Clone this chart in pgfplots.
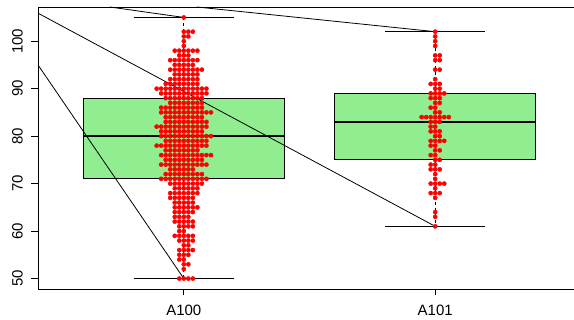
\documentclass[border=0pt]{standalone}
\usepackage{pgfplots}
\pgfplotsset{compat=1.18}
\usepackage{fontspec}
\setmainfont{Liberation Sans}
\definecolor{lightgreen}{RGB}{144,238,144}

\begin{document}
\begin{tikzpicture}
\begin{axis}[
  name=ax,
  scale only axis, width=543pt, height=282pt,
  xmin=0.42, xmax=2.58, ymin=47.8, ymax=107.2,
  axis line style={black, line width=0.8pt},
  tick pos=left, tick align=outside, major tick length=6.5pt,
  tick style={black, line width=0.8pt},
  xtick={1,2}, xticklabels={A100,A101},
  ytick={50,60,...,100},
  ticklabel style={font=\fontsize{15}{15}\selectfont, inner sep=0pt},
  /pgf/number format/assume math mode=true,
  xticklabel shift=9.5pt,
  yticklabel style={rotate=90, anchor=south},
  yticklabel shift=8.5pt,
]
% boxes
\addplot[fill=lightgreen, draw=black, line width=0.8pt] coordinates {(0.6,71) (1.4,71) (1.4,88) (0.6,88)} -- cycle;
\addplot[fill=lightgreen, draw=black, line width=0.8pt] coordinates {(1.6,75) (2.4,75) (2.4,89) (1.6,89)} -- cycle;
% whiskers
\addplot[black, line width=0.8pt, dash pattern=on 3pt off 3pt] coordinates {(1,88) (1,105)};
\addplot[black, line width=0.8pt, dash pattern=on 3pt off 3pt] coordinates {(1,71) (1,50)};
\addplot[black, line width=0.8pt, dash pattern=on 3pt off 3pt] coordinates {(2,89) (2,102)};
\addplot[black, line width=0.8pt, dash pattern=on 3pt off 3pt] coordinates {(2,75) (2,61)};
% staples
\addplot[black, line width=0.8pt] coordinates {(0.8,105) (1.2,105)};
\addplot[black, line width=0.8pt] coordinates {(0.8,50) (1.2,50)};
\addplot[black, line width=0.8pt] coordinates {(1.8,102) (2.2,102)};
\addplot[black, line width=0.8pt] coordinates {(1.8,61) (2.2,61)};
% medians
\addplot[black, line width=2.6pt] coordinates {(0.6,80) (1.4,80)};
\addplot[black, line width=2.6pt] coordinates {(1.6,83) (2.4,83)};
% connecting segments
\addplot[black, line width=0.8pt] coordinates {(0.42,105.9) (2,61)};
\addplot[black, line width=0.8pt] coordinates {(0.42,95.0) (1,50)};
\addplot[black, line width=0.8pt] coordinates {(0.706,107.2) (1,105)};
\addplot[black, line width=0.8pt] coordinates {(1.052,107.2) (2,102)};
% swarm A100 (x = slot index)
\addplot[only marks, mark=*, mark size=2.1pt, color=red, x filter/.expression={1+0.018*x}] coordinates {
(-1,50)(0,50)(1,50)(2,50)
(0,52)
(0,53)(1,53)
(-1,54)(0,54)
(-1,55)(0,55)(1,55)
(-1,56)(0,56)(1,56)(2,56)
(0,57)(1,57)
(-1,58)(0,58)(1,58)(2,58)
(-2,59)(-1,59)(0,59)(1,59)(2,59)
(-1,60)(0,60)
(-1,61)(0,61)(1,61)(2,61)
(-2,62)(-1,62)(0,62)(1,62)(2,62)
(-2,63)(-1,63)(0,63)(1,63)
(-2,64)(-1,64)(0,64)(1,64)(2,64)
(-2,65)(-1,65)(0,65)(1,65)(2,65)(3,65)
(-2,66)(-1,66)(0,66)(1,66)(2,66)
(-3,67)(-2,67)(-1,67)(0,67)(1,67)(2,67)
(-3,68)(-2,68)(-1,68)(0,68)(1,68)(2,68)(3,68)
(-2,69)(-1,69)(0,69)(1,69)(2,69)(3,69)
(-3,70)(-2,70)(-1,70)(0,70)(1,70)(2,70)(3,70)(4,70)
(-5,71)(-4,71)(-3,71)(-2,71)(-1,71)(0,71)(1,71)(2,71)(3,71)(4,71)(5,71)
(-4,72)(-3,72)(-2,72)(-1,72)(0,72)(1,72)(2,72)(3,72)(4,72)
(-3,73)(-2,73)(-1,73)(0,73)(1,73)(2,73)
(-5,74)(-4,74)(-3,74)(-2,74)(-1,74)(0,74)(1,74)(2,74)(3,74)(4,74)(5,74)
(-4,75)(-3,75)(-2,75)(-1,75)(0,75)(1,75)(2,75)(3,75)(4,75)
(-5,76)(-4,76)(-3,76)(-2,76)(-1,76)(0,76)(1,76)(2,76)(3,76)(4,76)(5,76)(6,76)
(-4,77)(-3,77)(-2,77)(-1,77)(0,77)(1,77)(2,77)(3,77)
(-6,78)(-5,78)(-4,78)(-3,78)(-2,78)(-1,78)(0,78)(1,78)(2,78)(3,78)(4,78)(5,78)
(-4,79)(-3,79)(-2,79)(-1,79)(0,79)(1,79)(2,79)(3,79)(4,79)(5,79)
(-5,80)(-4,80)(-3,80)(-2,80)(-1,80)(0,80)(1,80)(2,80)(3,80)(4,80)(5,80)(6,80)
(-5,81)(-4,81)(-3,81)(-2,81)(-1,81)(0,81)(1,81)(2,81)(3,81)(4,81)
(-6,82)(-5,82)(-4,82)(-3,82)(-2,82)(-1,82)(0,82)(1,82)(2,82)(3,82)(4,82)(5,82)
(-4,83)(-3,83)(-2,83)(-1,83)(0,83)(1,83)(2,83)(3,83)(4,83)(5,83)
(-4,84)(-3,84)(-2,84)(-1,84)(0,84)(1,84)(2,84)(3,84)(4,84)
(-5,85)(-4,85)(-3,85)(-2,85)(-1,85)(0,85)(1,85)(2,85)(3,85)(4,85)(5,85)(6,85)
(-5,86)(-4,86)(-3,86)(-2,86)(-1,86)(0,86)(1,86)(2,86)(3,86)(4,86)
(-3,87)(-2,87)(-1,87)(0,87)(1,87)(2,87)(3,87)(4,87)
(-4,88)(-3,88)(-2,88)(-1,88)(0,88)(1,88)(2,88)(3,88)(4,88)
(-5,89)(-4,89)(-3,89)(-2,89)(-1,89)(0,89)(1,89)(2,89)(3,89)(4,89)(5,89)
(-6,90)(-5,90)(-4,90)(-3,90)(-2,90)(-1,90)(0,90)(1,90)(2,90)(3,90)(4,90)(5,90)
(-4,91)(-3,91)(-2,91)(-1,91)(0,91)(1,91)(2,91)(3,91)
(-3,92)(-2,92)(-1,92)(0,92)(1,92)(2,92)(3,92)
(-2,93)(-1,93)(0,93)(1,93)(2,93)(3,93)
(-3,94)(-2,94)(-1,94)(0,94)(1,94)(2,94)(3,94)(4,94)
(-2,95)(-1,95)(0,95)(1,95)(2,95)
(-3,96)(-2,96)(-1,96)(0,96)(1,96)(2,96)(3,96)
(-1,97)(0,97)(1,97)
(-2,98)(-1,98)(0,98)(1,98)(2,98)(3,98)
(0,99)
(0,100)
(0,101)(1,101)
(0,102)(1,102)(2,102)
(0,105)
};
% swarm A101
\addplot[only marks, mark=*, mark size=2.1pt, color=red, x filter/.expression={2+0.018*x}] coordinates {
(0,61)
(0,63)
(0,64)
(0,67)
(-1,68)(0,68)(1,68)
(0,69)
(-1,70)(0,70)(1,70)(2,70)
(0,71)
(0,72)
(-1,73)(0,73)(1,73)
(-1,74)(0,74)
(0,75)(1,75)
(-1,76)(0,76)
(0,77)(1,77)
(-1,78)(0,78)
(-1,79)(0,79)(1,79)(2,79)
(0,80)(1,80)
(-1,81)(0,81)(1,81)
(-1,82)(0,82)
(-1,83)(0,83)(1,83)
(-3,84)(-2,84)(-1,84)(0,84)(1,84)(2,84)(3,84)
(0,85)(1,85)
(-1,86)(0,86)
(0,87)(1,87)
(-1,88)(0,88)(1,88)
(-1,89)(0,89)(1,89)(2,89)
(0,90)(1,90)
(-1,91)(0,91)(1,91)
(0,92)
(0,94)(1,94)
(0,96)(1,96)
(0,97)(1,97)
(0,99)
(0,100)
(0,101)
(0,102)
};
\end{axis}
\pgfresetboundingbox
\path ([shift={(-38pt,-31pt)}]ax.south west) rectangle ([shift={(-7pt,7pt)}]ax.north east);
\end{tikzpicture}
\end{document}
